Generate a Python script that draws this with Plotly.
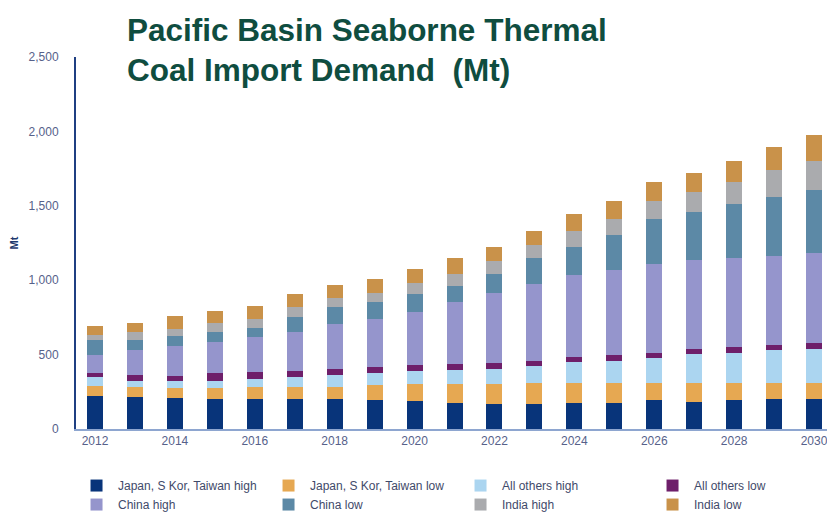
import plotly.graph_objects as go

years = list(range(2012, 2031))

series_names = [
    "Japan, S Kor, Taiwan high",
    "Japan, S Kor, Taiwan low",
    "All others high",
    "All others low",
    "China high",
    "China low",
    "India high",
    "India low",
]

japan_high = [224, 217, 206, 202, 204, 204, 204, 195, 190, 177, 168, 168, 172, 177, 193, 181, 193, 202, 204]
japan_low = [63, 63, 67, 74, 76, 80, 80, 101, 110, 123, 132, 141, 135, 130, 114, 130, 114, 105, 103]
others_high = [62, 45, 50, 49, 58, 67, 81, 82, 88, 96, 105, 114, 141, 152, 170, 193, 206, 224, 233]
others_low = [29, 38, 31, 53, 43, 41, 38, 41, 42, 41, 41, 36, 34, 40, 36, 34, 40, 34, 40]
china_high = [117, 168, 204, 205, 239, 262, 303, 318, 358, 414, 466, 513, 553, 567, 594, 596, 594, 598, 605]
china_low = [101, 67, 67, 69, 59, 101, 112, 114, 119, 110, 130, 175, 190, 240, 302, 322, 363, 396, 419]
india_high = [34, 52, 49, 58, 62, 67, 62, 65, 76, 81, 89, 90, 106, 107, 125, 135, 152, 180, 199]
india_low = [62, 64, 85, 83, 88, 85, 90, 94, 90, 105, 94, 96, 112, 119, 126, 131, 139, 158, 173]

series_values = [japan_high, japan_low, others_high, others_low,
                 china_high, china_low, india_high, india_low]

colors = ["#08347A", "#E6A852", "#ABD5F0", "#6E1F6A",
          "#9595CC", "#5C89A6", "#AAABAE", "#C9924A"]

y_tickvals = [0, 500, 1000, 1500, 2000, 2500]
y_ticktext = ["0", "500", "1,000", "1,500", "2,000", "2,500"]
x_tickvals = list(range(2012, 2031, 2))

fig = go.Figure()
for name, vals, col in zip(series_names, series_values, colors):
    fig.add_trace(go.Bar(x=years, y=vals, name=name, marker=dict(color=col, line=dict(width=0)),
                         width=0.4))

font_family = "Liberation Sans, Arial, sans-serif"
tick_color = "#56618A"

fig.update_layout(
    barmode="stack",
    width=827, height=513,
    margin=dict(l=76, r=0, t=57, b=84, autoexpand=False),
    paper_bgcolor="white", plot_bgcolor="white",
    font=dict(family=font_family, size=12, color=tick_color),
    title=dict(
        text="<b>Pacific Basin Seaborne Thermal<br>Coal Import Demand  (Mt)</b>",
        x=127/827, xanchor="left", xref="container",
        y=0.921, yanchor="top", yref="container",
        font=dict(family=font_family, size=31.5, color="#0F4D3F"),
    ),
    xaxis=dict(
        range=[2011.524, 2030.325], tickvals=x_tickvals,
        ticktext=[str(v) for v in x_tickvals],
        showgrid=False, zeroline=False, showline=True,
        linecolor="#8EA6D0", linewidth=2, ticks="",
        tickfont=dict(size=12, color=tick_color),
        ticklabeloverflow="allow",
    ),
    yaxis=dict(
        range=[0, 2500], tickvals=y_tickvals, ticktext=y_ticktext,
        showgrid=False, zeroline=False, showline=True,
        linecolor="#1F3F82", linewidth=2, ticks="",
        tickfont=dict(size=12, color=tick_color),
        ticklabelstandoff=13,
        title=dict(text="<b>Mt</b>", font=dict(size=11, color="#1F3A6E"), standoff=8),
    ),
    legend=dict(
        orientation="h", x=-0.0013, xanchor="left", y=-0.113, yanchor="top",
        entrywidth=144, entrywidthmode="pixels", itemwidth=33,
        font=dict(size=12, color="#3F4A6A"), traceorder="normal",
        bgcolor="rgba(0,0,0,0)",
    ),
    showlegend=True,
)

fig.write_html("out.html")
